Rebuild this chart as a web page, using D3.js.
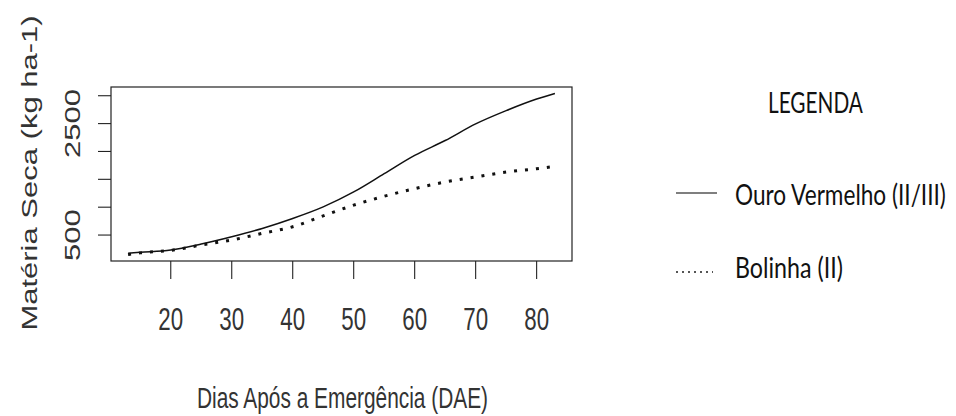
<!DOCTYPE html>
<html>
<head>
<meta charset="utf-8">
<script src="https://cdn.jsdelivr.net/npm/d3@7"></script>
<style>
  html, body { margin: 0; padding: 0; background: #fff; }
  svg { display: block; }
</style>
</head>
<body>
<svg id="chart" width="956" height="416"></svg>
<script>
// dias após a emergência
const days = [13, 15, 20, 25, 30, 35, 40, 45, 50, 55, 60, 65, 70, 75, 80, 83];
// matéria seca (kg ha-1)
const ouroVermelho = [173, 190, 232, 339, 470, 619, 798, 1006, 1274, 1601, 1929, 2196, 2494, 2732, 2940, 3041];
const bolinha = [150, 180, 225, 321, 411, 530, 649, 845, 1036, 1196, 1333, 1452, 1542, 1631, 1690, 1732];

const xTicks = [20, 30, 40, 50, 60, 70, 80];
const yTicks = [500, 1000, 1500, 2000, 2500, 3000];
const yTickLabels = [500, 2500];

const legendTitle = "LEGENDA";
const seriesNames = ["Ouro Vermelho (II/III)", "Bolinha (II)"];

const svg = d3.select("#chart");
const SX = 0.72; // picture is squeezed sideways
const rFont = "'Liberation Sans', Arial, sans-serif";

const box = { l: 111, r: 572, t: 87, b: 261 };

// R style 4% padding
const pad = (ext) => { const w = ext[1] - ext[0]; return [ext[0] - 0.04 * w, ext[1] + 0.04 * w]; };
const x = d3.scaleLinear().domain(pad(d3.extent(days))).range([box.l, box.r]);
const y = d3.scaleLinear().domain(pad([d3.min(bolinha.concat(ouroVermelho)), d3.max(bolinha.concat(ouroVermelho))])).range([box.b, box.t]);

// box
svg.append("rect")
  .attr("x", box.l).attr("y", box.t)
  .attr("width", box.r - box.l).attr("height", box.b - box.t)
  .attr("fill", "none").attr("stroke", "#222").attr("stroke-width", 1.2);

// ticks
svg.selectAll(".xt").data(xTicks).enter().append("line")
  .attr("x1", d => x(d)).attr("x2", d => x(d))
  .attr("y1", box.b).attr("y2", box.b + 18)
  .attr("stroke", "#222").attr("stroke-width", 1.1);

svg.selectAll(".yt").data(yTicks).enter().append("line")
  .attr("x1", box.l - 13).attr("x2", box.l)
  .attr("y1", d => y(d)).attr("y2", d => y(d))
  .attr("stroke", "#222").attr("stroke-width", 1.1);

svg.selectAll(".xl").data(xTicks).enter().append("text")
  .attr("transform", d => `translate(${x(d)},330) scale(${SX},1)`)
  .attr("text-anchor", "middle")
  .attr("font-family", rFont).attr("font-size", 31).attr("fill", "#333")
  .text(d => d);

svg.selectAll(".yl").data(yTickLabels).enter().append("text")
  .attr("transform", d => `translate(80,${y(d)}) scale(${SX},1) rotate(-90)`)
  .attr("text-anchor", "middle")
  .attr("font-family", rFont).attr("font-size", 31).attr("fill", "#333")
  .text(d => d);

// axis titles
svg.append("text")
  .attr("transform", `translate(${(box.l + box.r) / 2 + 1},408) scale(${SX},1)`)
  .attr("text-anchor", "middle")
  .attr("font-family", rFont).attr("font-size", 29).attr("fill", "#333")
  .text("Dias Após a Emergência (DAE)");

svg.append("text")
  .attr("transform", `translate(37,173) scale(${SX},1) rotate(-90)`)
  .attr("text-anchor", "middle")
  .attr("font-family", rFont).attr("font-size", 31).attr("fill", "#333")
  .text("Matéria Seca (kg ha-1)");

// series
const line = d3.line().x(d => x(d[0])).y(d => y(d[1])).curve(d3.curveMonotoneX);

svg.append("path")
  .datum(d3.zip(days, ouroVermelho))
  .attr("d", line)
  .attr("fill", "none").attr("stroke", "#111").attr("stroke-width", 1.5);

svg.append("path")
  .datum(d3.zip(days, bolinha))
  .attr("d", line)
  .attr("fill", "none").attr("stroke", "#111").attr("stroke-width", 3)
  .attr("stroke-dasharray", "3,8");

// legend - squeezed text, fitted to the widths seen in the picture
const lgFont = "Lato, 'Open Sans', sans-serif";
function squeezed(txt, x0, base, w) {
  const t = svg.append("text")
    .attr("font-family", lgFont).attr("font-size", 28).attr("fill", "#111")
    .text(txt);
  const nat = t.node().getComputedTextLength();
  t.attr("transform", `translate(${x0},${base}) scale(${w / nat},1)`);
}
squeezed(legendTitle, 768, 113, 95);

const lg = [
  { name: seriesNames[0], y: 193, base: 205, w: 211, x2: 717, dash: null, sw: 1.3 },
  { name: seriesNames[1], y: 272, base: 278, w: 108, x2: 713, dash: "2,4", sw: 2.2 }
];
lg.forEach(d => {
  svg.append("line")
    .attr("x1", 676).attr("x2", d.x2).attr("y1", d.y).attr("y2", d.y)
    .attr("stroke", "#555").attr("stroke-width", d.sw)
    .attr("stroke-dasharray", d.dash);
  squeezed(d.name, 735, d.base, d.w);
});
</script>
</body>
</html>
